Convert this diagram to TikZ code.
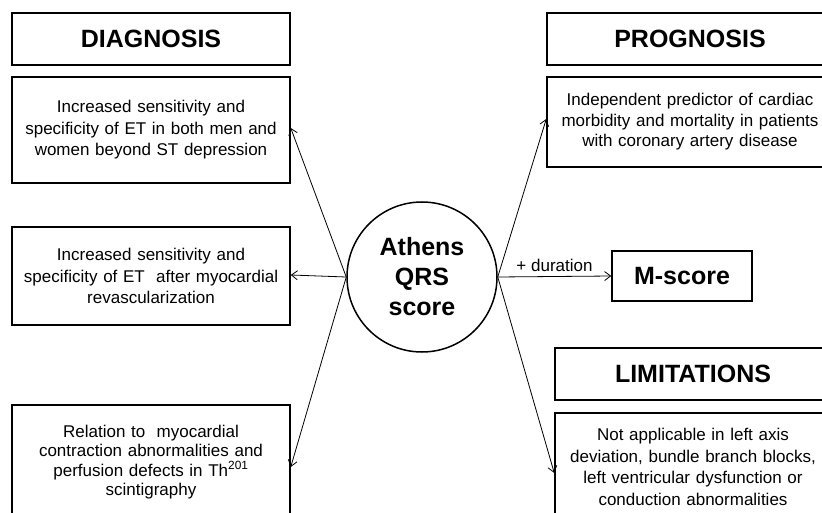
\documentclass[tikz,border=0pt]{standalone}
\usepackage{fontspec}
\setmainfont{Liberation Sans}
\usetikzlibrary{arrows.meta}
\begin{document}
\begin{tikzpicture}[x=1pt,y=-1pt,
  titlebox/.style={draw, line width=1.5pt, inner sep=0pt, minimum height=52pt,
    font=\fontsize{25}{28}\selectfont\bfseries},
  textbox/.style={draw, line width=1.5pt, inner sep=0pt, align=center,
    font=\fontsize{17}{21.5}\selectfont},
  conn/.style={line width=0.8pt, -{Straight Barb[length=6pt,width=9pt]}}]
\useasboundingbox (0,0) rectangle (822,513);
\clip (0,0) rectangle (822,513);
% left column
\node[titlebox, minimum width=278pt] (diag) at (151,39) {DIAGNOSIS};
\node[textbox, text width=278pt, minimum height=106pt] (d1) at (151,130)
  {Increased sensitivity and\\specificity of ET in both men and\\women beyond ST depression};
\node[textbox, text width=278pt, minimum height=98pt] (d2) at (151,276)
  {Increased sensitivity and\\specificity of ET\ \ after myocardial\\revascularization};
\node[textbox, text width=278pt, minimum height=114pt, font=\fontsize{17}{19.5}\selectfont] (d3) at (151,462)
  {Relation to\ \ myocardial\\contraction abnormalities and\\perfusion defects in Th\textsuperscript{201}\\scintigraphy};
% centre
\node[draw, circle, line width=1.5pt, minimum size=150pt, inner sep=0pt, align=center,
  font=\fontsize{25}{30}\selectfont\bfseries] (c) at (422,277) {Athens\\QRS\\score};
% right column
\node[titlebox, minimum width=286pt] (prog) at (690,39) {PROGNOSIS};
\node[textbox, text width=286pt, minimum height=90pt, font=\fontsize{17}{20.5}\selectfont] (p1) at (690,122)
  {Independent predictor of cardiac\\morbidity and mortality in patients\\with coronary artery disease};
\node[titlebox, minimum width=140pt, minimum height=50pt] (m) at (682,276) {M-score};
\node[titlebox, minimum width=276pt] (lim) at (693,374) {LIMITATIONS};
\node[textbox, text width=276pt, minimum height=108pt] (l1) at (693,467)
  {Not applicable in left axis\\deviation, bundle branch blocks,\\left ventricular dysfunction or\\conduction abnormalities};
% connectors
\draw[conn] (c.west) -- ([yshift=2pt]d1.east);
\draw[conn] (c.west) -- ([yshift=1pt]d2.east);
\draw[conn] (c.west) -- ([yshift=-5pt]d3.east);
\draw[conn] (c.east) -- ([yshift=3pt]p1.west);
\draw[conn] (c.east) -- node[above, font=\fontsize{17}{19}\selectfont, yshift=1pt] {+ duration} (m.west);
\draw[conn] (c.east) -- ([yshift=-6pt]l1.west);
\end{tikzpicture}
\end{document}
